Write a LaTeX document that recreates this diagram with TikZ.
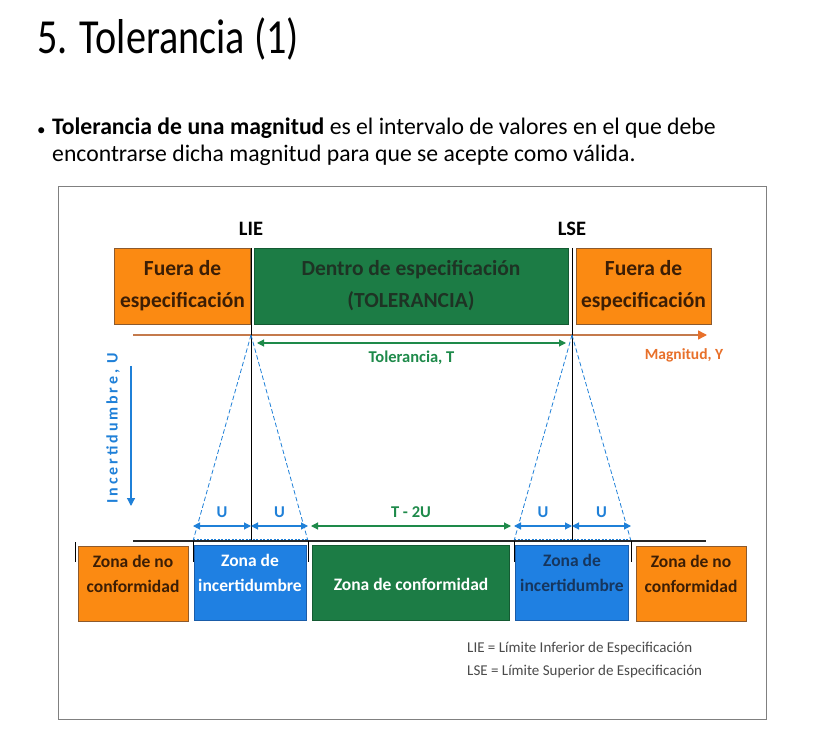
\documentclass[tikz,border=0pt]{standalone}
\usepackage{fontspec}
\setmainfont{Carlito}
\usetikzlibrary{arrows.meta,positioning}
\definecolor{zoneorange}{HTML}{FB8A12}
\definecolor{edgebrown}{HTML}{8C5A2E}
\definecolor{darkbrown}{HTML}{3C1E05}
\definecolor{zonegreen}{HTML}{1C7C45}
\definecolor{edgegreen}{HTML}{145A32}
\definecolor{darkgreentext}{HTML}{1E3324}
\definecolor{zoneblue}{HTML}{1F80E2}
\definecolor{edgeblue}{HTML}{1A5CA8}
\definecolor{navytext}{HTML}{16365E}
\definecolor{dimblue}{HTML}{1F80D8}
\definecolor{dimgreen}{HTML}{1E8A4A}
\definecolor{magorange}{HTML}{E8702A}
\definecolor{axisbrown}{HTML}{C47A4C}
\definecolor{legendgray}{HTML}{4A4A4A}
\tikzset{
  topbox/.style={draw=edgebrown,line width=.8pt,minimum height=76,inner sep=0pt,align=center,font=\bfseries\fontsize{21.5}{32}\selectfont},
  outbox/.style={topbox,fill=zoneorange,text=darkbrown},
  tolbox/.style={topbox,fill=zonegreen,draw=edgegreen,text=darkgreentext},
  zonebox/.style={line width=.8pt,minimum height=75,inner sep=0pt},
  zonetext/.style={align=center,inner sep=0pt,font=\bfseries\fontsize{17.5}{25}\selectfont},
  noconf/.style={zonebox,draw=edgebrown,fill=zoneorange},
  uncert/.style={zonebox,draw=edgeblue,fill=zoneblue},
  conf/.style={zonebox,draw=edgegreen,fill=zonegreen},
  limit/.style={font=\bfseries\fontsize{20.5}{24}\selectfont},
  limline/.style={line width=.9pt,black},
  uncdash/.style={dimblue,line width=.8pt,dash pattern=on 4.5pt off 2.5pt},
  udim/.style={{Triangle[width=7pt,length=7pt]}-{Triangle[width=7pt,length=7pt]},dimblue,line width=1.1pt},
  tdim/.style={{Triangle[width=7pt,length=7pt]}-{Triangle[width=7pt,length=7pt]},dimgreen,line width=1.1pt},
  ulabel/.style={text=dimblue,font=\bfseries\fontsize{16.5}{18}\selectfont},
  tick/.style={line width=1pt,black},
}

\begin{document}
\begin{tikzpicture}[x=1pt,y=-1pt]
  \useasboundingbox (0,0) rectangle (823,738);
  \fill[white] (0,0) rectangle (823,738);
  % header
  \node[anchor=base west,inner sep=0pt,font=\fontsize{49}{56}\selectfont] (title) at (37,54) {\scalebox{0.82}[1]{5. Tolerancia (1)}};
  \node[anchor=base west,inner sep=0pt,font=\fontsize{17}{25}\selectfont] (dot) at (37,136) {•};
  \node[anchor=north west,inner sep=0pt,align=left,font=\fontsize{23.7}{27}\selectfont] (defn) at (52,118)
    {\textbf{Tolerancia de una magnitud} es el intervalo de valores en el que debe\\encontrarse dicha magnitud para que se acepte como válida.};
  % frame
  \draw[gray,line width=1pt] (58,187) rectangle (766,719);
  % upper row
  \node[outbox,minimum width=136] (fueraL) at (182.5,286) {Fuera de\\especificación};
  \node[tolbox,minimum width=314] (dentro) at (411,286) {Dentro de especificación\\(TOLERANCIA)};
  \node[outbox,minimum width=135] (fueraR) at (643.5,286) {Fuera de\\especificación};
  \node[limit] (lie) at (251,229) {LIE};
  \node[limit] (lse) at (572,229) {LSE};
  % limits and axis
  \coordinate (lieup) at (251,248);
  \coordinate (lseup) at (572,248);
  \coordinate (lietop) at (251,335);
  \coordinate (lsetop) at (572,335);
  \coordinate (liebot) at (251,541);
  \coordinate (lsebot) at (572,541);
  \coordinate (lieL) at (193,541);
  \coordinate (lieR) at (308,541);
  \coordinate (lseL) at (514,541);
  \coordinate (lseR) at (631,541);
  \coordinate (axisA) at (133,335);
  \coordinate (axisB) at (707,335);
  \draw[axisbrown,line width=1.4pt,-{Triangle[width=9pt,length=9pt,color=magorange]}] (axisA) -- (axisB);
  \draw[limline] (lieup) -- (liebot);
  \draw[limline] (lseup) -- (lsebot);
  \draw[tdim] ([xshift=6pt,yshift=-8pt]lietop) -- ([xshift=-6pt,yshift=-8pt]lsetop)
    node[midway,below=4pt,text=dimgreen,font=\bfseries\fontsize{16.5}{18}\selectfont] (tol) {Tolerancia, T};
  \node[text=magorange,font=\bfseries\fontsize{15.5}{18}\selectfont] (mag) at (684,355) {Magnitud, Y};
  % uncertainty axis
  \node[rotate=90,text=dimblue,font=\bfseries\fontsize{16}{18}\selectfont\addfontfeatures{LetterSpace=18}] (incert) at (113,428) {Incertidumbre, U};
  \coordinate (udown1) at (131,366);
  \coordinate (udown2) at (131,506);
  \draw[dimblue,line width=1.2pt,-{Triangle[width=8pt,length=8pt]}] (udown1) -- (udown2);
  % cones
  \draw[uncdash] (lietop) -- (lieL);
  \draw[uncdash] (lietop) -- (lieR);
  \draw[uncdash] (lsetop) -- (lseL);
  \draw[uncdash] (lsetop) -- (lseR);
  \draw[uncdash,dash pattern=on 2pt off 1.5pt] ([yshift=2pt]lieL) -- ([yshift=2pt]lieR);
  \draw[uncdash,dash pattern=on 2pt off 1.5pt] ([yshift=2pt]lseL) -- ([yshift=2pt]lseR);
  % dimension arrows
  \draw[udim] ([yshift=15pt]lieL) -- ([yshift=15pt]liebot) node[midway,above=4pt,ulabel] (u1) {U};
  \draw[udim] ([yshift=15pt]liebot) -- ([yshift=15pt]lieR) node[midway,above=4pt,ulabel] (u2) {U};
  \draw[udim] ([yshift=15pt]lseL) -- ([yshift=15pt]lsebot) node[midway,above=4pt,ulabel] (u3) {U};
  \draw[udim] ([yshift=15pt]lsebot) -- ([yshift=15pt]lseR) node[midway,above=4pt,ulabel] (u4) {U};
  \draw[tdim] ([xshift=3pt,yshift=15pt]lieR) -- ([xshift=-3pt,yshift=15pt]lseL)
    node[midway,above=4pt,text=dimgreen,font=\bfseries\fontsize{16.5}{18}\selectfont] (t2u) {T - 2U};
  % base line and ticks
  \coordinate (baseA) at (133,541);
  \coordinate (baseB) at (706,541);
  \draw[line width=1.4pt,black!85] (baseA) -- (baseB);
  \draw[tick] (75,542) -- (75,562);
  \draw[tick] (lieL) -- ++(0,21);
  \draw[tick] (lieR) -- ++(0,21);
  \draw[tick] (lseL) -- ++(0,21);
  \draw[tick] (lseR) -- ++(0,21);
  % lower row
  \node[noconf,minimum width=110] (noconfL) at (133,584) {};
  \node[uncert,minimum width=112] (uncL) at (250,583) {};
  \node[conf,minimum width=197] (confz) at (411,583) {};
  \node[uncert,minimum width=113] (uncR) at (572,583) {};
  \node[noconf,minimum width=110] (noconfR) at (691,584) {};
  \node[zonetext,text=darkbrown] at ([yshift=10pt]noconfL.center) {Zona de no\\conformidad};
  \node[zonetext,text=white] at ([yshift=10pt]uncL.center) {Zona de\\incertidumbre};
  \node[zonetext,text=white] at ([yshift=-1pt]confz.center) {Zona de conformidad};
  \node[zonetext,text=navytext] at ([yshift=10pt]uncR.center) {Zona de\\incertidumbre};
  \node[zonetext,text=darkbrown] at ([yshift=10pt]noconfR.center) {Zona de no\\conformidad};
  % legend
  \node[anchor=north west,inner sep=0pt,align=left,text=legendgray,font=\fontsize{15}{23}\selectfont] (legend) at (467,642)
    {LIE = Límite Inferior de Especificación\\LSE = Límite Superior de Especificación};
\end{tikzpicture}
\end{document}
